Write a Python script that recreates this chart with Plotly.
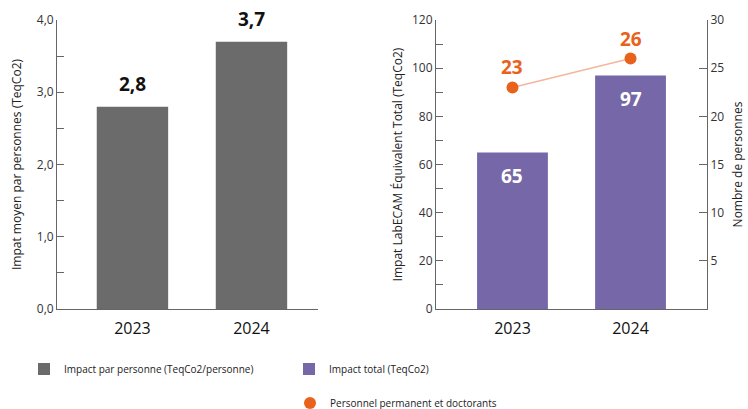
import plotly.graph_objects as go

years = ["2023", "2024"]
impact_par_personne = [2.8, 3.7]
impact_total = [65, 97]
personnel = [23, 26]

W, H = 748, 409
FONT = "Open Sans"
GREY = "#6b6b6b"
PURPLE = "#7667a8"
ORANGE = "#e8621c"
LINE = "#f4b79c"
AXIS = "#666666"

def px(x):
    return x / W

def py(y):
    return 1 - y / H

fig = go.Figure()

fig.add_trace(go.Bar(
    x=years, y=impact_par_personne, xaxis="x", yaxis="y",
    marker=dict(color=GREY, line=dict(width=0)), width=0.6,
    name="Impact par personne (TeqCo2/personne)", legend="legend",
    hoverinfo="skip"))

fig.add_trace(go.Bar(
    x=years, y=impact_total, xaxis="x2", yaxis="y2",
    marker=dict(color=PURPLE, line=dict(width=0)), width=0.6,
    name="Impact total (TeqCo2)", legend="legend2", hoverinfo="skip"))

fig.add_trace(go.Scatter(
    x=years, y=personnel, xaxis="x2", yaxis="y3", mode="lines",
    line=dict(color=LINE, width=1.5), showlegend=False, hoverinfo="skip"))

fig.add_trace(go.Scatter(
    x=years, y=personnel, xaxis="x2", yaxis="y3", mode="markers",
    marker=dict(color=ORANGE, size=12),
    name="Personnel permanent et doctorants", legend="legend3",
    hoverinfo="skip"))

VAL_SIZE = 19
annotations = []
for i, v in enumerate(impact_par_personne):
    annotations.append(dict(
        x=i, y=v, xref="x", yref="y", text=f"{v:.1f}".replace(".", ","),
        showarrow=False, yanchor="bottom", yshift=8,
        font=dict(family=FONT, size=VAL_SIZE, color="#111111", weight=700)))
for i, v in enumerate(impact_total):
    annotations.append(dict(
        x=i, y=v, xref="x2", yref="y2", text=str(v),
        showarrow=False, yanchor="top", yshift=-9,
        font=dict(family=FONT, size=VAL_SIZE, color="white", weight=700)))
for i, v in enumerate(personnel):
    annotations.append(dict(
        x=i, y=v, xref="x2", yref="y3", text=str(v),
        showarrow=False, yanchor="bottom", yshift=5,
        font=dict(family=FONT, size=VAL_SIZE, color=ORANGE, weight=700)))

tickfont = dict(family=FONT, size=12, color="#333333")
yearfont = dict(family=FONT, size=16, color="#111111")
titlefont = dict(family=FONT, size=12, color="#222222")
legfont = dict(family=FONT, size=10, color="#222222")

ydom = [py(309), py(20)]

fig.update_layout(
    width=W, height=H,
    margin=dict(l=0, r=0, t=0, b=0, autoexpand=False),
    paper_bgcolor="white", plot_bgcolor="white",
    separators=", ",
    showlegend=True,
    font=dict(family=FONT),
    xaxis=dict(domain=[px(57), px(318)], range=[-0.634, 1.559],
               type="category", showline=True, linecolor=AXIS, linewidth=1,
               ticks="", tickfont=yearfont, ticklabelstandoff=5,
               showgrid=False, anchor="y"),
    yaxis=dict(domain=ydom, range=[0, 4], anchor="x",
               tickvals=[0, 1, 2, 3, 4], tickformat=".1f",
               showline=True, linecolor=AXIS, linewidth=1,
               ticks="inside", ticklen=7, tickcolor=AXIS,
               minor=dict(dtick=0.5, ticks="inside", ticklen=7, tickcolor=AXIS,
                          showgrid=False),
               showgrid=False, zeroline=False, tickfont=tickfont,
               title=dict(text="Impat moyen par personnes (TeqCo2)",
                          font=titlefont, standoff=12)),
    xaxis2=dict(domain=[px(436), px(707)], range=[-0.648, 1.648],
                type="category", showline=True, linecolor=AXIS, linewidth=1,
                ticks="", tickfont=yearfont, ticklabelstandoff=5,
                showgrid=False, anchor="y2"),
    yaxis2=dict(domain=ydom, range=[0, 120], anchor="x2",
                tickvals=[0, 20, 40, 60, 80, 100, 120],
                showline=True, linecolor=AXIS, linewidth=1,
                ticks="inside", ticklen=7, tickcolor=AXIS,
                minor=dict(dtick=10, ticks="inside", ticklen=7, tickcolor=AXIS,
                           showgrid=False),
                showgrid=False, zeroline=False, tickfont=tickfont,
                title=dict(text="Impat LabECAM Équivalent Total (TeqCo2)",
                           font=titlefont, standoff=6)),
    yaxis3=dict(domain=ydom, range=[0, 30], anchor="x2", overlaying="y2",
                side="right", tickvals=[5, 10, 15, 20, 25, 30],
                showline=True, linecolor=AXIS, linewidth=1,
                ticks="inside", ticklen=8, tickcolor=AXIS,
                showgrid=False, zeroline=False, tickfont=tickfont,
                title=dict(text="Nombre de personnes", font=titlefont,
                           standoff=10)),
    legend=dict(x=px(24), y=py(369), xanchor="left", yanchor="middle",
                font=legfont, bgcolor="rgba(0,0,0,0)"),
    legend2=dict(x=px(289), y=py(369), xanchor="left", yanchor="middle",
                 font=legfont, bgcolor="rgba(0,0,0,0)"),
    legend3=dict(x=px(290), y=py(403), xanchor="left", yanchor="middle",
                 font=legfont, bgcolor="rgba(0,0,0,0)"),
    annotations=annotations,
)

fig.write_html(
    "out.html",
    config={"displayModeBar": False},
    post_script="document.body.style.margin='0';document.body.style.overflow='hidden';",
)
